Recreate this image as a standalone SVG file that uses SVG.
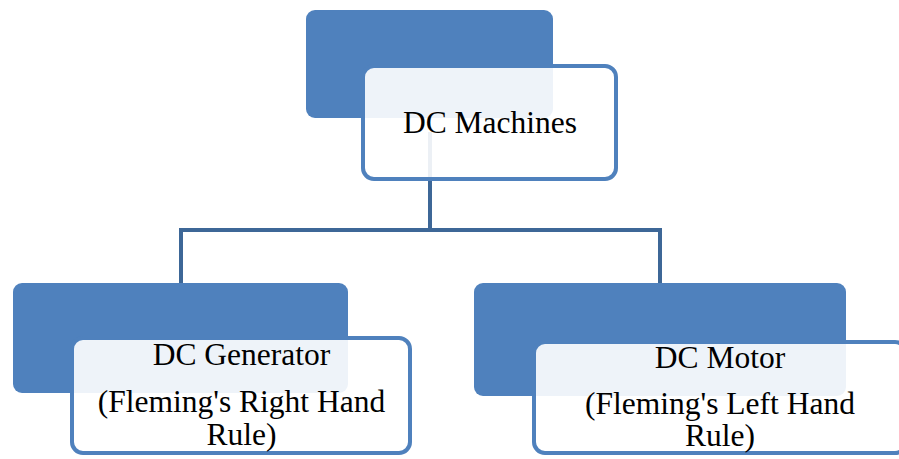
<svg xmlns="http://www.w3.org/2000/svg" width="899" height="459" viewBox="0 0 899 459">
  <style>
    .back { fill: #4f81bd; }
    .front { fill: #ffffff; fill-opacity: 0.9; stroke: #4f81bd; stroke-width: 4; }
    .link { fill: none; stroke: #3d6797; stroke-width: 4; stroke-linejoin: miter; }
    text { font-family: "Liberation Serif", "Times New Roman", serif; font-size: 31.5px; fill: #000000; text-anchor: middle; }
  </style>
  <rect width="899" height="459" fill="#ffffff"/>

  <!-- tree connectors -->
  <g id="connectors">
    <path class="link" d="M430,132 V230"/>
    <path class="link" d="M181,284 V230 H660 V284"/>
  </g>

  <!-- root node -->
  <g id="dc-machines">
    <rect class="back" x="306" y="10" width="247" height="108" rx="9"/>
    <rect class="front" x="363" y="66" width="253" height="113" rx="11"/>
    <text x="490" y="133">DC Machines</text>
  </g>

  <!-- left child -->
  <g id="dc-generator">
    <rect class="back" x="13" y="283" width="335" height="110" rx="9"/>
    <rect class="front" x="72" y="338" width="338" height="115" rx="11"/>
    <text x="241.5" y="365">DC Generator</text>
    <text x="241.5" y="412">(Fleming's Right Hand</text>
    <text x="241.5" y="445">Rule)</text>
  </g>

  <!-- right child -->
  <g id="dc-motor">
    <rect class="back" x="474" y="283" width="372" height="113" rx="9"/>
    <rect class="front" x="534" y="342" width="372" height="111" rx="11"/>
    <text x="720" y="368">DC Motor</text>
    <text x="720" y="414">(Fleming's Left Hand</text>
    <text x="720" y="446">Rule)</text>
  </g>
</svg>
